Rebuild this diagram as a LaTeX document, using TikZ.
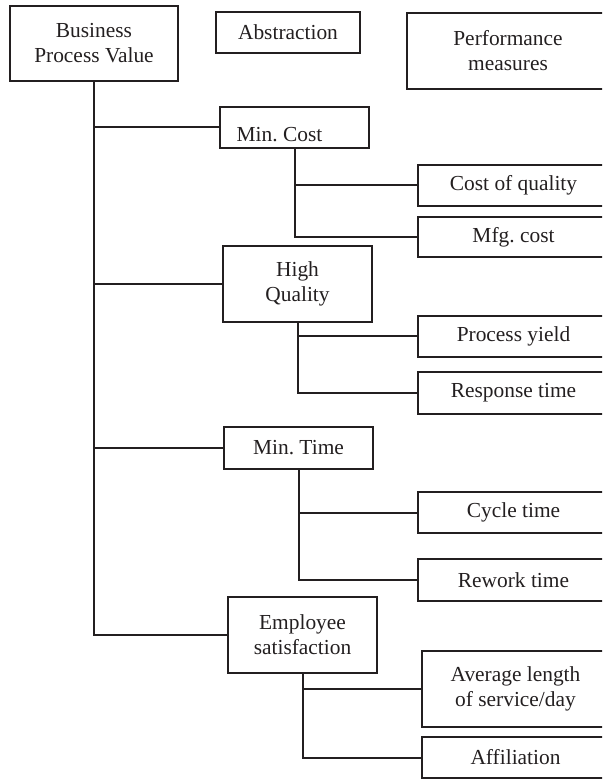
\documentclass[tikz,border=0pt]{standalone}
\usepackage{fontspec}
\setmainfont{Liberation Serif}
\definecolor{ink}{HTML}{231F20}
\tikzset{
  box/.style={draw=ink, line width=1pt, inner sep=0pt, outer sep=0pt,
    text=ink, font=\fontsize{10.7}{12.5}\selectfont\frenchspacing},
  twoline/.style={align=center},
  link/.style={draw=ink, line width=1pt}
}
\begin{document}
\begin{tikzpicture}[x=0.5pt, y=-0.5pt]
\useasboundingbox (0,0) rectangle (602,779);
\clip (0,0) rectangle (602,779);
% top row
\node[box, twoline, minimum width=84pt, minimum height=37.5pt] (bpv) at (94,43.5) {Business\\Process Value};
\node[box, minimum width=72pt, minimum height=20.5pt] (abs) at (288,32.5) {Abstraction};
\node[box, twoline, minimum width=101pt, minimum height=38pt] (perf) at (508,51) {Performance\\measures};
% abstraction level
\node[box, minimum width=74.5pt, minimum height=20.5pt, text height=14.4pt, text depth=0pt] (mc) at (294.5,127.5) {Min.\ Cost\kern15pt};
\node[box, twoline, minimum width=74.5pt, minimum height=38pt] (hq) at (297.5,284) {High\\Quality};
\node[box, minimum width=74.5pt, minimum height=21pt] (mt) at (298.5,448) {Min.\ Time};
\node[box, twoline, minimum width=74.5pt, minimum height=38pt] (es) at (302.5,635) {Employee\\satisfaction};
% performance measures
\node[box, minimum width=95.5pt, minimum height=20.5pt] (coq) at (513.5,185.5) {Cost of quality};
\node[box, minimum width=95.5pt, minimum height=20pt] (mfg) at (513.5,237) {Mfg.\ cost};
\node[box, minimum width=95.5pt, minimum height=20.5pt] (py) at (513.5,336.5) {Process yield};
\node[box, minimum width=95.5pt, minimum height=21pt] (rt) at (513.5,393) {Response time};
\node[box, minimum width=95.5pt, minimum height=20.5pt] (ct) at (513.5,512.5) {Cycle time};
\node[box, minimum width=95.5pt, minimum height=21pt] (rw) at (513.5,580) {Rework time};
\node[box, twoline, minimum width=93.5pt, minimum height=38pt] (avg) at (515.5,689) {Average length\\of service/day};
\node[box, minimum width=93.5pt, minimum height=20.5pt] (aff) at (515.5,757.5) {Affiliation};
% connectors
\draw[link] (bpv.south) |- (mc.west);
\draw[link] (bpv.south) |- (hq.west);
\draw[link] (bpv.south) |- (mt.west);
\draw[link] (bpv.south) |- (es.west);
\draw[link] (mc.south) |- (coq.west);
\draw[link] (mc.south) |- (mfg.west);
\draw[link] (hq.south) |- (py.west);
\draw[link] (hq.south) |- (rt.west);
\draw[link] (mt.south) |- (ct.west);
\draw[link] (mt.south) |- (rw.west);
\draw[link] (es.south) |- (avg.west);
\draw[link] (es.south) |- (aff.west);
\end{tikzpicture}
\end{document}
